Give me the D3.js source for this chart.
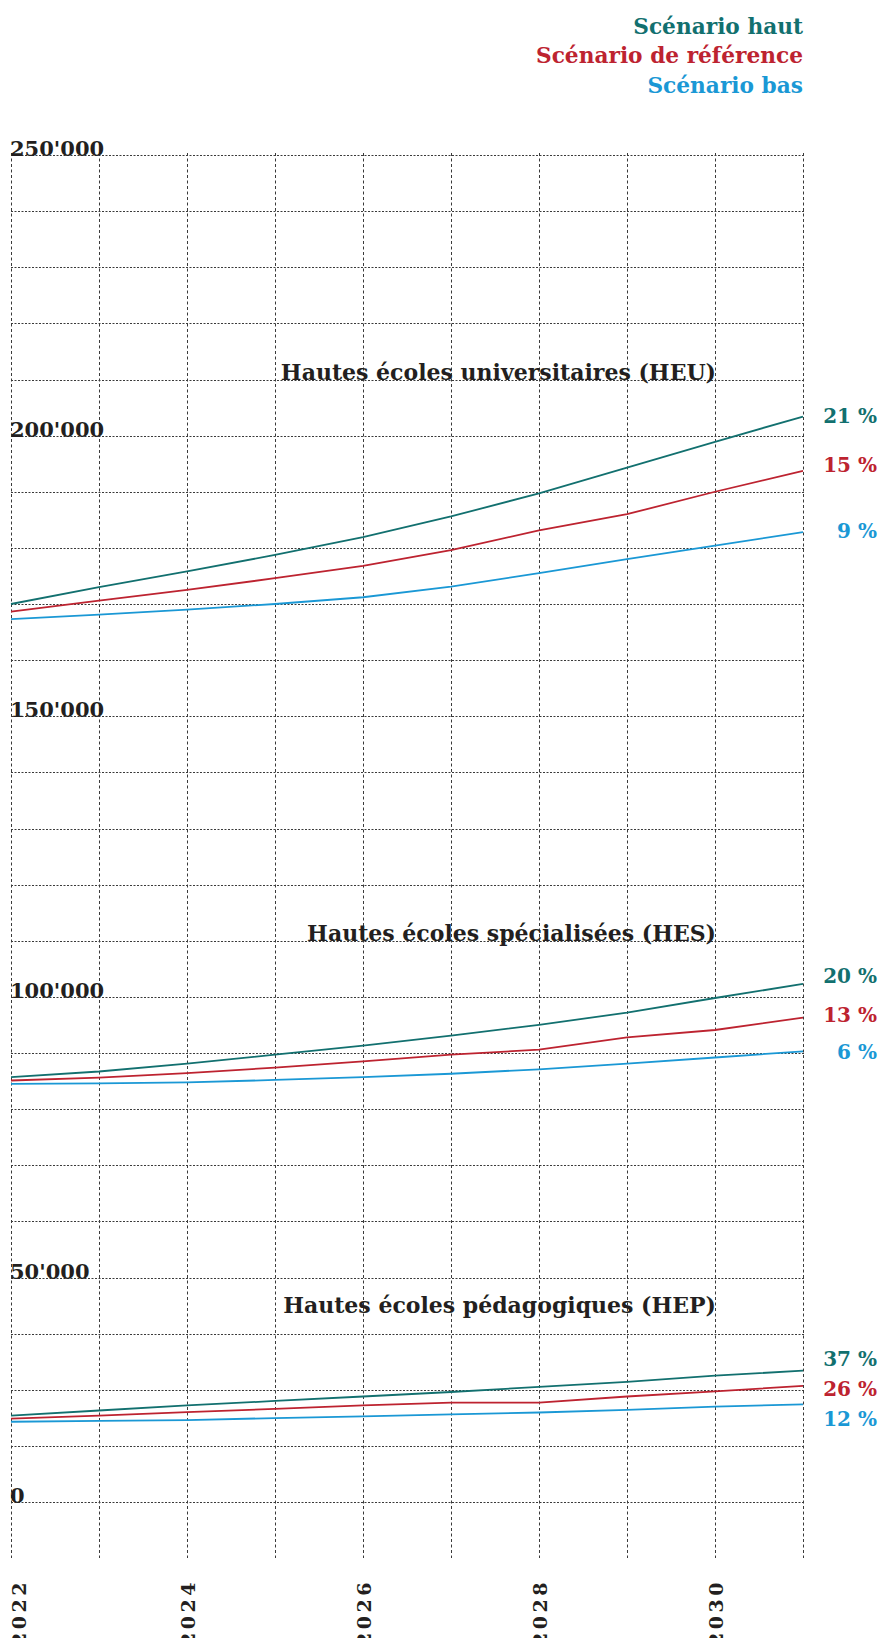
<!DOCTYPE html>
<html lang="fr">
<head>
<meta charset="utf-8">
<title>Étudiants des hautes écoles – scénarios</title>
<script src="https://cdn.jsdelivr.net/npm/d3@7"></script>
<style>
  html, body { margin: 0; padding: 0; background: #ffffff; }
  svg { display: block; }
  text { font-family: "DejaVu Serif", "Liberation Serif", serif; font-weight: bold; }
</style>
</head>
<body>
<svg id="chart" width="887" height="1638"></svg>
<script>
// ---- Data -------------------------------------------------------------
const years = [2022, 2023, 2024, 2025, 2026, 2027, 2028, 2029, 2030, 2031];

const scenarios = ["Scénario haut", "Scénario de référence", "Scénario bas"];

const groups = [
  "Hautes écoles universitaires (HEU)",
  "Hautes écoles spécialisées (HES)",
  "Hautes écoles pédagogiques (HEP)"
];

// Students per year, one list per school type and scenario
const heuHaut = [170000, 173000, 175800, 178750, 181900, 185600, 189700, 194300, 198900, 203400];
const heuRef  = [168650, 170600, 172500, 174600, 176800, 179600, 183100, 186000, 190000, 193700];
const heuBas  = [167300, 168100, 169000, 170000, 171200, 173100, 175500, 178000, 180400, 182800];

const hesHaut = [85700, 86700, 88100, 89700, 91300, 93100, 95000, 97200, 99800, 102300];
const hesRef  = [85100, 85600, 86400, 87400, 88500, 89700, 90600, 92800, 94100, 96300];
const hesBas  = [84500, 84600, 84750, 85200, 85700, 86300, 87100, 88100, 89200, 90300];

const hepHaut = [25400, 26300, 27200, 28000, 28800, 29600, 30500, 31400, 32500, 33400];
const hepRef  = [24850, 25400, 26000, 26600, 27200, 27700, 27700, 28800, 29700, 30700];
const hepBas  = [24300, 24450, 24600, 24950, 25250, 25600, 25950, 26400, 27000, 27400];

// Growth 2022–2031 as printed beside the line ends
const heuGrowth = ["21 %", "15 %", "9 %"];
const hesGrowth = ["20 %", "13 %", "6 %"];
const hepGrowth = ["37 %", "26 %", "12 %"];

// Axis ticks
const yTickValues = [250000, 200000, 150000, 100000, 50000, 10000];
const yTickLabels = ["250'000", "200'000", "150'000", "100'000", "50'000", "0"];
const xTickYears  = [2022, 2024, 2026, 2028, 2030];

// ---- Layout & style ---------------------------------------------------
const colors = ["#12706f", "#bd2330", "#1a98d5"];
const textColor = "#231f20";
const gridColor = "#3a3a3a";

const plot = { left: 11, right: 803, top: 155, bottom: 1502, gridBottom: 1558 };

// Title anchors (value on the y scale where each group's title sits)
const titleAnchor = [210000, 110000, 43700];
// Vertical nudges for the growth labels so they don't collide
const growthDy = [[6, 1, 6], [-1, 4, 8], [-5, 10, 22]];

const series = [
  [heuHaut, heuRef, heuBas],
  [hesHaut, hesRef, hesBas],
  [hepHaut, hepRef, hepBas]
];
const growth = [heuGrowth, hesGrowth, hepGrowth];

// ---- Scales -----------------------------------------------------------
const x = d3.scaleLinear().domain([2022, 2031]).range([plot.left, plot.right]);
const y = d3.scaleLinear().domain([10000, 250000]).range([plot.bottom, plot.top]);

const svg = d3.select("#chart");

// ---- Grid -------------------------------------------------------------
const grid = svg.append("g").attr("class", "grid");

grid.selectAll("line.v")
  .data(years)
  .join("line")
  .attr("class", "v")
  .attr("x1", d => x(d) + 0.5).attr("x2", d => x(d) + 0.5)
  .attr("y1", plot.top - 2).attr("y2", plot.gridBottom)
  .attr("stroke", gridColor).attr("stroke-width", 1)
  .attr("stroke-dasharray", "3,2.5");

grid.selectAll("line.h")
  .data(d3.range(10000, 250001, 10000))
  .join("line")
  .attr("class", "h")
  .attr("x1", plot.left).attr("x2", plot.right + 1)
  .attr("y1", d => Math.round(y(d)) + 0.5).attr("y2", d => Math.round(y(d)) + 0.5)
  .attr("stroke", gridColor).attr("stroke-width", 1)
  .attr("stroke-dasharray", "2,1.5");

// ---- Y axis labels ----------------------------------------------------
svg.append("g").attr("class", "y-labels")
  .selectAll("text")
  .data(yTickValues)
  .join("text")
  .attr("x", plot.left - 1)
  .attr("y", d => y(d) + 1)
  .attr("fill", textColor)
  .attr("font-size", 21)
  .text((d, i) => yTickLabels[i]);

// ---- X axis labels (rotated, running off the bottom edge) -------------
svg.append("g").attr("class", "x-labels")
  .selectAll("text")
  .data(xTickYears)
  .join("text")
  .attr("transform", d => `translate(${Math.max(x(d) + 1, 19)},1579) rotate(-90)`)
  .attr("text-anchor", "end")
  .attr("dy", "0.36em")
  .attr("fill", textColor)
  .attr("font-size", 19)
  .attr("letter-spacing", "3.5px")
  .text(d => d);

// ---- Lines ------------------------------------------------------------
const line = d3.line()
  .x((d, i) => x(years[i]))
  .y(d => y(d));

series.forEach((grp, g) => {
  const gSel = svg.append("g").attr("class", "group");

  // title
  gSel.append("text")
    .attr("x", x(2030) + 1)
    .attr("y", y(titleAnchor[g]))
    .attr("text-anchor", "end")
    .attr("fill", textColor)
    .attr("font-size", 22)
    .text(groups[g]);

  gSel.selectAll("path")
    .data(grp)
    .join("path")
    .attr("d", d => line(d))
    .attr("fill", "none")
    .attr("stroke", (d, i) => colors[i])
    .attr("stroke-width", 1.8);

  gSel.selectAll("text.growth")
    .data(grp)
    .join("text")
    .attr("class", "growth")
    .attr("x", 877)
    .attr("y", (d, i) => y(d[d.length - 1]) + growthDy[g][i])
    .attr("text-anchor", "end")
    .attr("fill", (d, i) => colors[i])
    .attr("font-size", 20)
    .text((d, i) => growth[g][i]);
});

// ---- Legend -----------------------------------------------------------
svg.append("g").attr("class", "legend")
  .selectAll("text")
  .data(scenarios)
  .join("text")
  .attr("x", plot.right)
  .attr("y", (d, i) => 34 + i * 29.4)
  .attr("text-anchor", "end")
  .attr("fill", (d, i) => colors[i])
  .attr("font-size", 21.7)
  .text(d => d);
</script>
</body>
</html>
